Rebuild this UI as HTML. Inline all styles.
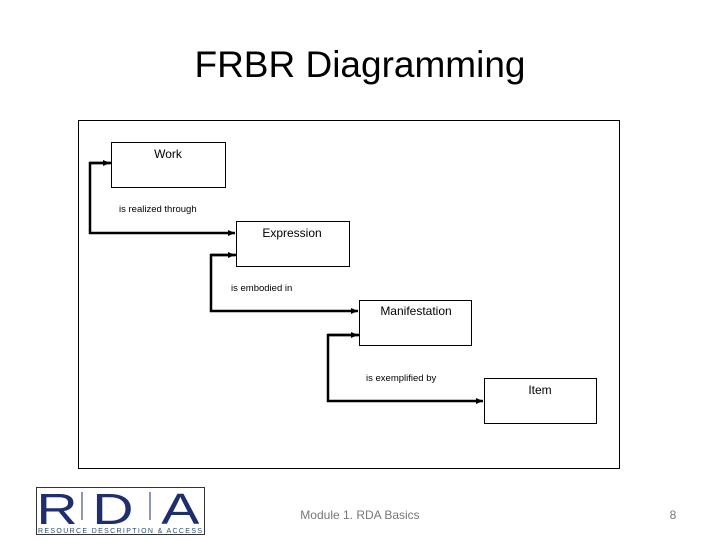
<html><body style="margin:0;width:720px;height:540px;background:#fff;position:relative;overflow:hidden;font-family:'Liberation Sans',sans-serif">
<div style="position:absolute;top:44px;width:720px;text-align:center;font-family:'Liberation Sans',sans-serif;font-size:37px;color:#000">FRBR Diagramming</div>
<svg width="720" height="540" style="position:absolute;left:0;top:0">
<defs><marker id="a" markerWidth="8" markerHeight="8" refX="7" refY="4" orient="auto" markerUnits="userSpaceOnUse"><path d="M0,1 L7,4 L0,7z" fill="#000"/></marker></defs>
<rect x="78.5" y="120.5" width="541" height="348" fill="none" stroke="#000"/>
<g fill="#fff" stroke="#000">
<rect x="111.5" y="142.5" width="114" height="45"/>
<rect x="236.5" y="221.5" width="113" height="45"/>
<rect x="359.5" y="300.5" width="112" height="45"/>
<rect x="484.5" y="378.5" width="112" height="45"/>
</g>
<g fill="none" stroke="#000" stroke-width="2.5">
<path d="M111,163 H90 V233 H235" marker-end="url(#a)"/>
<path d="M236,255 H211 V311 H358" marker-end="url(#a)"/>
<path d="M359,335 H328 V401 H483" marker-end="url(#a)"/>
<path d="M90,163 H110" marker-end="url(#a)"/>
<path d="M211,255 H235" marker-end="url(#a)"/>
<path d="M328,335 H358" marker-end="url(#a)"/>
</g>
<g font-family="Liberation Sans" font-size="12" fill="#000">
<text x="168" y="158" text-anchor="middle">Work</text>
<text x="292" y="237" text-anchor="middle">Expression</text>
<text x="416" y="315" text-anchor="middle">Manifestation</text>
<text x="540" y="394" text-anchor="middle">Item</text>
</g>
<g font-family="Liberation Sans" font-size="9.5" fill="#000">
<text x="119" y="212">is realized through</text>
<text x="231" y="291">is embodied in</text>
<text x="366" y="381">is exemplified by</text>
</g>
<rect x="36.5" y="487.5" width="168" height="47" fill="none" stroke="#333"/>
<g font-family="Liberation Sans" font-size="44" fill="#1f2f6e" transform="scale(1.3,1)">
<text x="28" y="524">R</text><text x="71" y="524">D</text><text x="124" y="524">A</text>
</g>
<line x1="82" y1="492" x2="82" y2="520" stroke="#1f2f6e"/>
<line x1="150" y1="492" x2="150" y2="520" stroke="#1f2f6e"/>
<text x="38" y="533" font-family="Liberation Sans" font-size="7" fill="#2a4e7a" textLength="164">RESOURCE DESCRIPTION &amp; ACCESS</text>
<text x="360" y="519" text-anchor="middle" font-family="Liberation Sans" font-size="12" fill="#777">Module 1. RDA Basics</text>
<text x="673" y="519" text-anchor="middle" font-family="Liberation Sans" font-size="12" fill="#777">8</text>
</svg>
</body></html>
